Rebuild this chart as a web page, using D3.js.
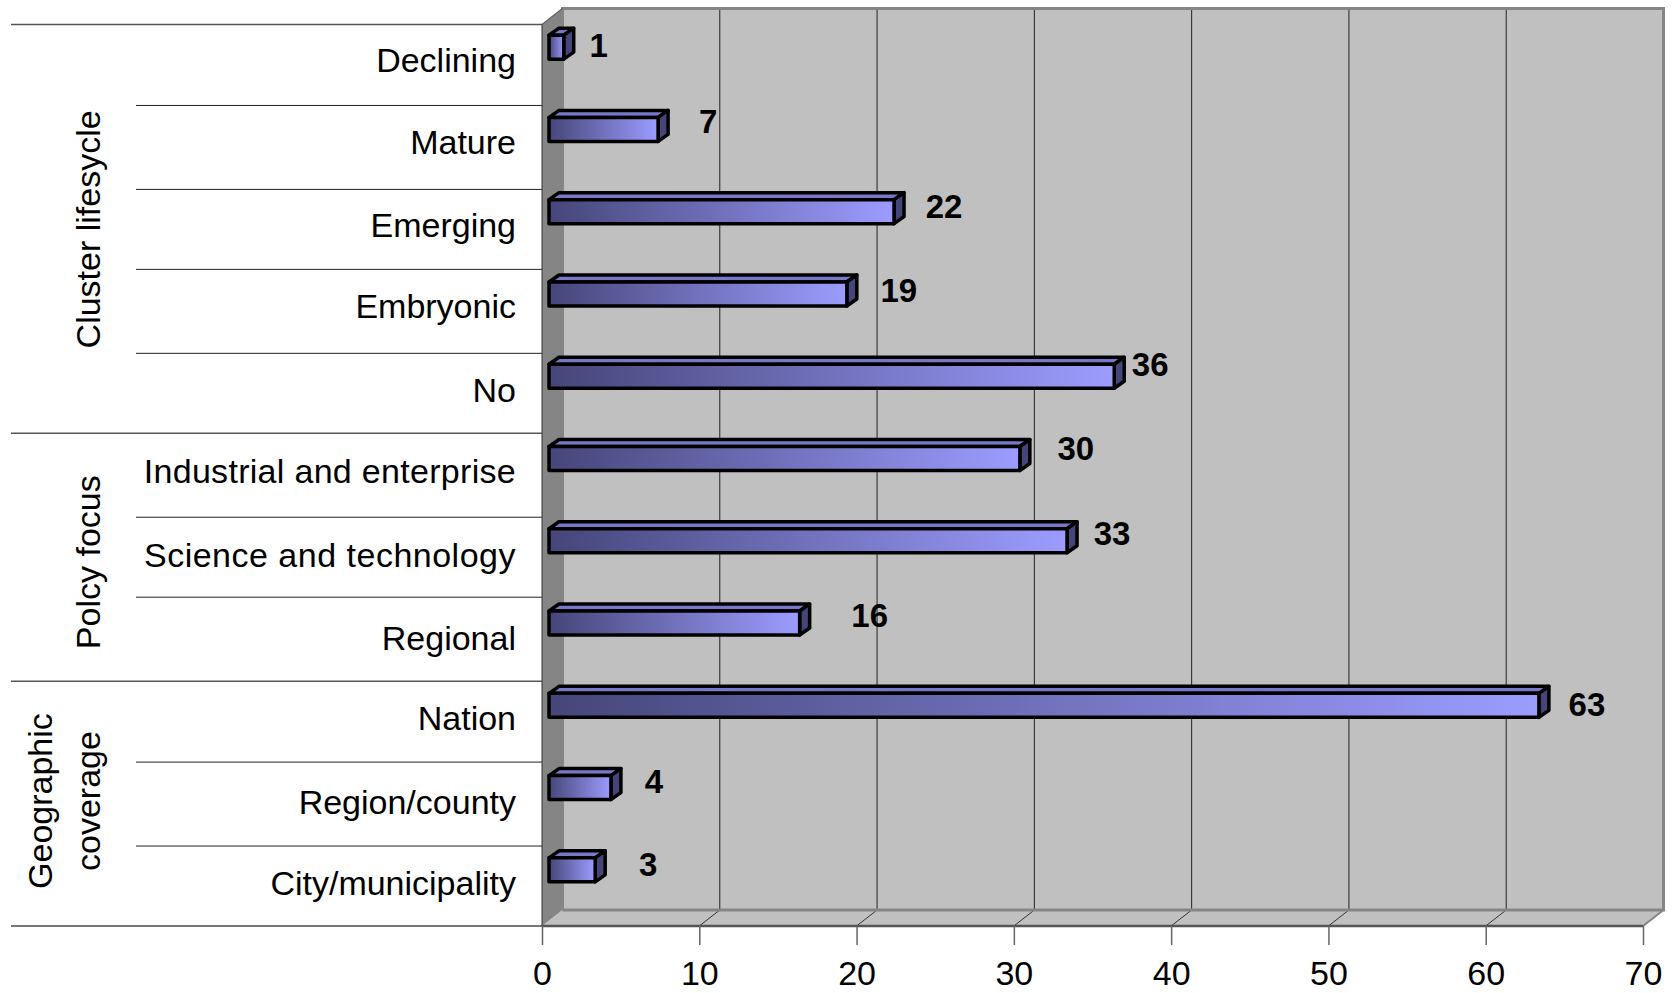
<!DOCTYPE html>
<html><head><meta charset="utf-8">
<style>html,body{margin:0;padding:0;background:#fff}svg{display:block}text{font-family:"Liberation Sans",Arial,sans-serif;fill:#000}</style>
<script src="https://cdn.jsdelivr.net/npm/d3@7"></script></head>
<body><svg id="c" width="1673" height="993"></svg>
<script>
const categories=["Declining","Mature","Emerging","Embryonic","No","Industrial and enterprise","Science and technology","Regional","Nation","Region/county","City/municipality"];
const values=[1,7,22,19,36,30,33,16,63,4,3];
const axisTicks=[0,10,20,30,40,50,60,70];
const groups=[{name:["Cluster lifesycle"],first:0,last:4},{name:["Polcy focus"],first:5,last:7},{name:["Geographic","coverage"],first:8,last:10}];
// hand-read placement nudges: value labels, category labels, separators
const labelDx=[41,56,56,58,42,62,51,76,54,49,59];
const labelDy=[-2,-8,-5,-4,-12,-10,-7,-8,-1,-6,-5];
const catDy=[-2,-2,-1,-2,0,-1,1,2,0,2,1];
const catSpacing=[0,0,0,0,0,0.3,0.5,0,0,0,0];
const sepDy=[0,-1,1,-1,1,-1,1,-1,1,0,2];

const W=1673,H=993,depthX=20.5,depthY=16,barDX=10,barDY=7,barLeft=7,barInset=6,barH=24;
const L=542,B=926,T=24.5;
const svg=d3.select("#c");
const x=d3.scaleLinear().domain([0,70]).range([L,1643]);
const rows=d3.scaleBand().domain(categories).range([T,B]);
const bars=d3.scaleBand().domain(categories).range([6,911]);
const poly=p=>p.map(q=>q.join(",")).join(" ");

const g=svg.append("linearGradient").attr("id","bar").attr("x1",0).attr("x2",1).attr("y1",0).attr("y2",0);
g.append("stop").attr("offset",0).attr("stop-color","#46467a");
g.append("stop").attr("offset",1).attr("stop-color","#9c9cff");

// walls
svg.append("polygon").attr("points",poly([[L+depthX,T-depthY],[x(70)+depthX,T-depthY],[x(70)+depthX,B-depthY],[L+depthX,B-depthY]])).attr("fill","#c0c0c0");
svg.append("polygon").attr("points",poly([[L,B],[L+depthX,B-depthY],[x(70)+depthX,B-depthY],[x(70),B]])).attr("fill","#c0c0c0");
svg.append("polygon").attr("points",poly([[L,T],[L+depthX,T-depthY],[L+depthX,B-depthY],[L,B]])).attr("fill","#858585");

// grid on wall and floor
const gridTicks=axisTicks.slice(1,-1);
svg.selectAll("line.grid").data(gridTicks).join("line").attr("class","grid")
 .attr("x1",d=>x(d)+depthX).attr("x2",d=>x(d)+depthX).attr("y1",T-depthY).attr("y2",B-depthY).attr("stroke","#222").attr("stroke-width",1);
svg.selectAll("line.floor").data(gridTicks).join("line").attr("class","floor")
 .attr("x1",d=>x(d)).attr("x2",d=>x(d)+depthX).attr("y1",B).attr("y2",B-depthY).attr("stroke","#333").attr("stroke-width",1);
// wall edges
svg.append("polyline").attr("points",poly([[L+depthX,B-depthY],[L+depthX,T-depthY],[x(70)+depthX,T-depthY],[x(70)+depthX,B-depthY],[L+depthX,B-depthY]]))
 .attr("fill","none").attr("stroke","#858585").attr("stroke-width",3);
svg.append("line").attr("x1",x(70)).attr("y1",B).attr("x2",x(70)+depthX).attr("y2",B-depthY).attr("stroke","#858585").attr("stroke-width",2);
svg.append("line").attr("x1",L).attr("y1",T).attr("x2",L+depthX).attr("y2",T-depthY).attr("stroke","#666").attr("stroke-width",1.5);

// table separators
const long=new Set(groups.map(d=>d.first));
svg.selectAll("line.sep").data(categories).join("line").attr("class","sep")
 .attr("x1",(d,i)=>long.has(i)?11:136).attr("x2",L)
 .attr("y1",(d,i)=>rows(d)+sepDy[i]).attr("y2",(d,i)=>rows(d)+sepDy[i])
 .attr("stroke",(d,i)=>long.has(i)?"#555":"#222").attr("stroke-width",(d,i)=>long.has(i)?1.5:1);
svg.append("line").attr("x1",11).attr("x2",L).attr("y1",B).attr("y2",B).attr("stroke","#777").attr("stroke-width",2);
svg.append("line").attr("x1",L).attr("x2",L).attr("y1",T).attr("y2",B).attr("stroke","#333").attr("stroke-width",1);

// axis
const ax=svg.append("g").attr("transform",`translate(0,${B})`).call(d3.axisBottom(x).tickValues(axisTicks).tickFormat(d3.format("d")).tickSize(19).tickPadding(16));
ax.select(".domain").attr("d",`M${L},0H${x(70)}`).attr("stroke","#555").attr("stroke-width",2.5);
ax.selectAll(".tick line").attr("stroke","#666").attr("stroke-width",1.5);
ax.selectAll("text").style("font-family",'"Liberation Sans",Arial,sans-serif').style("font-size","34px").attr("fill","#000");

// category labels
svg.selectAll("text.cat").data(categories).join("text").attr("class","cat")
 .attr("x",516).attr("y",(d,i)=>rows(d)+rows.bandwidth()/2-3+catDy[i]).attr("dy","0.35em").attr("text-anchor","end")
 .style("letter-spacing",(d,i)=>catSpacing[i]+"px")
 .style("font-size","34px").text(d=>d);

// group labels
const groupDy=[0,5,2];
groups.forEach((gr,k)=>{
  const cy=(rows(categories[gr.first])+rows(categories[gr.last])+rows.bandwidth())/2;
  const xs=gr.name.length>1?[40,88]:[88];
  gr.name.forEach((t,i)=>{
    svg.append("text").attr("transform",`translate(${xs[i]},${(gr.name.length>1?cy-4:cy)+groupDy[k]}) rotate(-90)`)
     .attr("text-anchor","middle").attr("dy","0.35em").style("font-size","34px").text(t);
  });
});

// bars
const bar=svg.selectAll("g.bar").data(categories).join("g").attr("class","bar")
 .attr("stroke","#000").attr("stroke-width",3.5).attr("stroke-linejoin","round");
const cy=d=>bars(d)+bars.bandwidth()/2;
const xv=(i)=>x(values[i])+barInset;
bar.append("polygon").attr("points",(d,i)=>poly([[L+barLeft,cy(d)-barH/2],[L+barLeft+barDX,cy(d)-barH/2-barDY],[xv(i)+barDX,cy(d)-barH/2-barDY],[xv(i),cy(d)-barH/2]])).attr("fill","#7878c8");
bar.append("polygon").attr("points",(d,i)=>poly([[xv(i),cy(d)-barH/2],[xv(i)+barDX,cy(d)-barH/2-barDY],[xv(i)+barDX,cy(d)+barH/2-barDY],[xv(i),cy(d)+barH/2]])).attr("fill","#45457a");
bar.append("rect").attr("x",L+barLeft).attr("y",d=>cy(d)-barH/2).attr("width",(d,i)=>xv(i)-L-barLeft).attr("height",barH).attr("fill","url(#bar)");

// value labels
svg.selectAll("text.val").data(categories).join("text").attr("class","val")
 .attr("x",(d,i)=>x(values[i])+labelDx[i]).attr("y",(d,i)=>cy(d)+labelDy[i]).attr("dy","0.35em").attr("text-anchor","middle")
 .style("font-size","33px").style("font-weight","bold").text((d,i)=>values[i]);
</script></body></html>
